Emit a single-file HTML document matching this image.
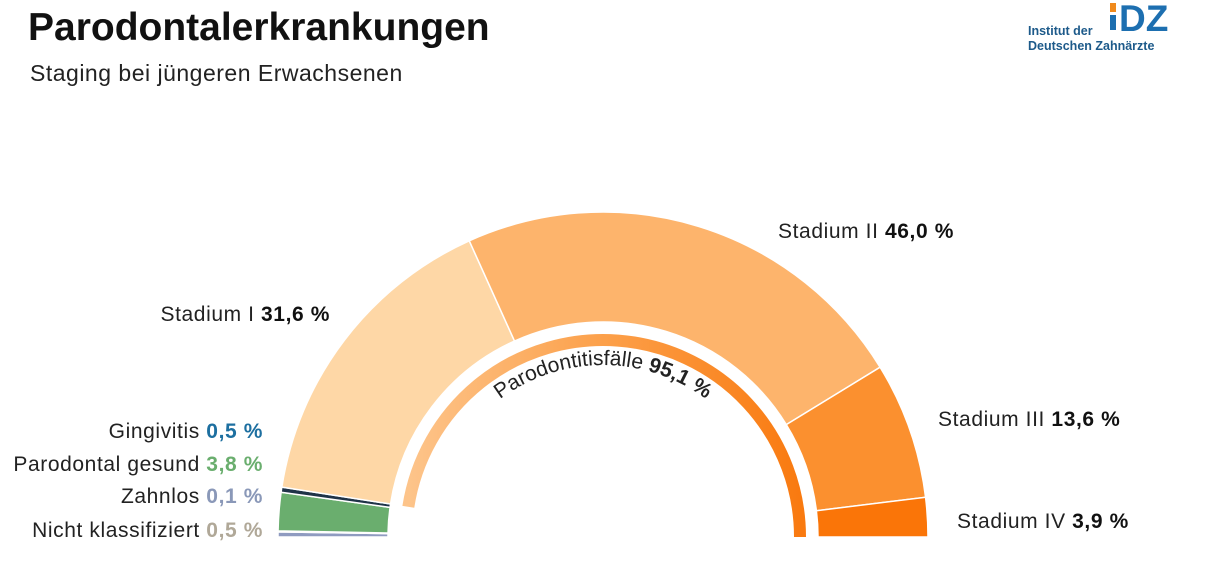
<!DOCTYPE html>
<html><head><meta charset="utf-8"><style>
html,body{margin:0;padding:0;background:#fff;}
body{width:1208px;height:558px;overflow:hidden;position:relative;font-family:"Liberation Sans",sans-serif;}
</style></head><body>
<svg width="1208" height="558" viewBox="0 0 1208 558">
<defs>
<linearGradient id="ig" x1="0" y1="0" x2="1" y2="0">
<stop offset="0" stop-color="#fdc48a"/><stop offset="0.5" stop-color="#fca04a"/><stop offset="1" stop-color="#f97a10"/>
</linearGradient>
</defs>
<text x="28" y="40" font-size="39" font-weight="bold" fill="#111">Parodontalerkrankungen</text>
<text x="30" y="81" font-size="23" letter-spacing="0.5" fill="#222">Staging bei jüngeren Erwachsenen</text>
<g>
<text x="1028" y="35" font-size="12.5" font-weight="bold" fill="#1d5a8a">Institut der</text>
<text x="1028" y="50" font-size="12.5" font-weight="bold" fill="#1d5a8a">Deutschen Zahnärzte</text>
<rect x="1110" y="3" width="6" height="9" fill="#f08a1c"/>
<rect x="1110" y="15" width="6" height="15" fill="#1d6fb0"/>
<text x="1119" y="31" font-size="37" font-weight="bold" fill="#1d6fb0">DZ</text>
</g>
<g id="ring"></g>
<g id="labels"></g>
</svg>
<script>
const categories=["Nicht klassifiziert","Zahnlos","Parodontal gesund","Gingivitis","Stadium I","Stadium II","Stadium III","Stadium IV"];
const values=[0.5,0.1,3.8,0.5,31.6,46.0,13.6,3.9];
const colors=["#8f9bc0","#3a4a6a","#6aae6e","#1f3347","#fed7a6","#fdb46c","#fb902f","#fa7508"];
const valueColors=["#b0a898","#8a98b8","#6aae6e","#1d6fa0","#111","#111","#111","#111"];
const cycleShare=95.1;
const cx=603,cy=537,R=325,r=215;
const NS="http://www.w3.org/2000/svg";
const total=values.reduce((a,b)=>a+b,0);
function ang(p){return Math.PI-(p/total)*Math.PI;}
function pt(a,rad){return [cx+rad*Math.cos(a),cy-rad*Math.sin(a)];}
const ring=document.getElementById('ring');
let acc=0;
values.forEach((v,i)=>{
  const a0=ang(acc),a1=ang(acc+v);acc+=v;
  const [x0,y0]=pt(a0,R),[x1,y1]=pt(a1,R),[x2,y2]=pt(a1,r),[x3,y3]=pt(a0,r);
  const p=document.createElementNS(NS,'path');
  p.setAttribute('d',`M${x0},${y0} A${R},${R} 0 0 1 ${x1},${y1} L${x2},${y2} A${r},${r} 0 0 0 ${x3},${y3} Z`);
  p.setAttribute('fill',colors[i]);
  p.setAttribute('stroke','#fff');p.setAttribute('stroke-width','1.5');
  
  
  ring.appendChild(p);
});
const startP=100-cycleShare;
const a0=ang(startP*total/100),ri=197;
const [sx,sy]=pt(a0,ri),[ex,ey]=pt(0,ri);
const arc=document.createElementNS(NS,'path');
arc.setAttribute('d',`M${sx},${sy} A${ri},${ri} 0 0 1 ${ex},${ey}`);
arc.setAttribute('fill','none');arc.setAttribute('stroke','url(#ig)');arc.setAttribute('stroke-width','12');


ring.appendChild(arc);
const lab=document.getElementById('labels');
function fmt(v){return v.toFixed(1).replace('.',',')+' %';}
const pos=[[263,537,'end'],[263,503,'end'],[263,471,'end'],[263,438,'end'],[330,321,'end'],[778,238,'start'],[938,426,'start'],[957,528,'start']];
categories.forEach((c,i)=>{
  const t=document.createElementNS(NS,'text');
  t.setAttribute('x',pos[i][0]);t.setAttribute('y',pos[i][1]);t.setAttribute('text-anchor',pos[i][2]);
  t.setAttribute('font-size','21');t.setAttribute('letter-spacing','0.6');t.setAttribute('fill','#222');
  
  
  t.innerHTML=c+' <tspan font-weight="bold" fill="'+valueColors[i]+'">'+fmt(values[i])+'</tspan>';
  lab.appendChild(t);
});
const cp=document.createElementNS(NS,'path');
cp.setAttribute('id','lp');
cp.setAttribute('d',`M${cx-172},${cy} A172,172 0 0 1 ${cx+172},${cy}`);
cp.setAttribute('fill','none');
document.querySelector('defs').appendChild(cp);
const pt2=document.createElementNS(NS,'text');
pt2.setAttribute('font-size','21');pt2.setAttribute('fill','#222');


pt2.innerHTML='<textPath href="#lp" startOffset="50%" text-anchor="middle">Parodontitisfälle <tspan font-weight="bold">'+fmt(cycleShare)+'</tspan></textPath>';
lab.appendChild(pt2);
</script>
</body></html>
